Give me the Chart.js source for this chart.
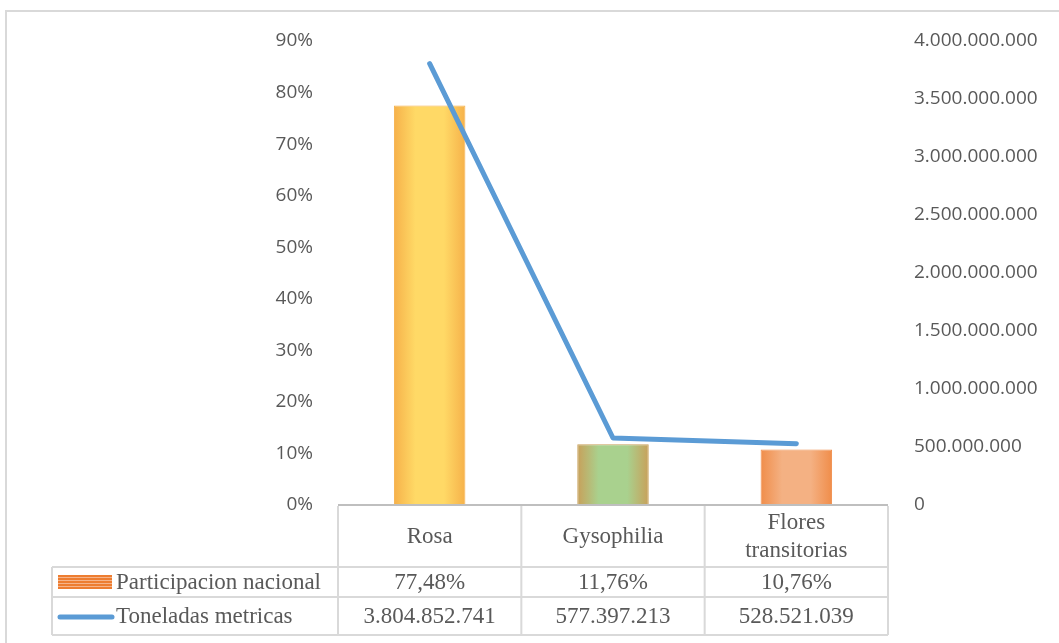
<!DOCTYPE html>
<html>
<head>
<meta charset="utf-8">
<script src="https://cdn.jsdelivr.net/npm/chart.js@4/dist/chart.umd.min.js"></script>
<style>
  body { margin: 0; background: #fff; }
</style>
</head>
<body>
<canvas id="myChart" width="1059" height="643"></canvas>
<script>
function $(id) {
  return document.getElementById(id);
}

// data
const categories = ["Rosa", "Gysophilia", ["Flores", "transitorias"]];
const participacion = [77.48, 11.76, 10.76];
const toneladas = [3804852741, 577397213, 528521039];
const seriesNames = ["Participacion nacional", "Toneladas metricas"];

// bar colours: edge, centre
const barEdges = ["#F6B14A", "#C8A05A", "#F08D4A"];
const barCentres = ["#FFD966", "#A9D18E", "#F4B183"];

const TEXT = "#595959";
const LINE = "#d9d9d9";
const BLUE = "#5B9BD5";
const BAR_PCT = 0.39;

function dots(n) {
  return Math.round(n).toString().replace(/\B(?=(\d{3})+(?!\d))/g, ".");
}

function pct(v) {
  return v.toFixed(2).replace(".", ",") + "%";
}

function barFill(context) {
  const chart = context.chart;
  const i = context.dataIndex;
  const xs = chart.scales.x;
  const area = chart.chartArea;
  if (!xs || !area || i === undefined) return barCentres[i] || barCentres[0];
  const cx = xs.getPixelForValue(i);
  const half = (area.right - area.left) / categories.length * BAR_PCT / 2;
  if (isNaN(cx) || !half) return barCentres[i];
  const g = chart.ctx.createLinearGradient(cx - half, 0, cx + half, 0);
  g.addColorStop(0, barEdges[i]);
  g.addColorStop(0.3, barCentres[i]);
  g.addColorStop(0.7, barCentres[i]);
  g.addColorStop(1, barEdges[i]);
  return g;
}

// draws the frame and the data table under the plot
const tablePlugin = {
  id: "dataTable",
  afterDraw(chart) {
    const c = chart.ctx;
    const area = chart.chartArea;
    const xs = chart.scales.x;
    const colW = (area.right - area.left) / categories.length;
    const rows = [area.bottom, 567, 597, 635];
    const labelLeft = 52;

    c.save();
    // outer frame
    c.strokeStyle = LINE;
    c.lineWidth = 2;
    c.beginPath();
    c.moveTo(6, 643);
    c.lineTo(6, 11);
    c.lineTo(1059, 11);
    c.stroke();

    // axis line
    c.strokeStyle = "#bfbfbf";
    c.beginPath();
    c.moveTo(area.left, area.bottom);
    c.lineTo(area.right, area.bottom);
    c.stroke();

    // table lines
    c.strokeStyle = LINE;
    c.beginPath();
    for (let r = 1; r < rows.length; r++) {
      c.moveTo(labelLeft, rows[r]);
      c.lineTo(area.right, rows[r]);
    }
    c.moveTo(labelLeft, rows[1]);
    c.lineTo(labelLeft, rows[3]);
    for (let k = 0; k <= categories.length; k++) {
      const x = area.left + k * colW;
      c.moveTo(x, rows[0] + 1);
      c.lineTo(x, rows[3]);
    }
    c.stroke();

    // texts
    c.fillStyle = TEXT;
    c.font = "23px 'Liberation Serif', 'Times New Roman', serif";
    c.textAlign = "center";
    c.textBaseline = "middle";
    categories.forEach((cat, i) => {
      const x = xs.getPixelForValue(i);
      const mid = (rows[0] + rows[1]) / 2 + 1;
      if (Array.isArray(cat)) {
        c.fillText(cat[0], x, mid - 14);
        c.fillText(cat[1], x, mid + 14);
      } else {
        c.fillText(cat, x, mid);
      }
      c.fillText(pct(participacion[i]), x, (rows[1] + rows[2]) / 2 + 1);
      c.fillText(dots(toneladas[i]), x, (rows[2] + rows[3]) / 2 + 1);
    });

    // legend keys
    const y1 = (rows[1] + rows[2]) / 2;
    c.fillStyle = "#ED7D31";
    c.fillRect(58, y1 - 7, 54, 14);
    c.strokeStyle = "#F6B48A";
    c.lineWidth = 1;
    c.beginPath();
    for (let s = y1 - 5; s < y1 + 7; s += 3) {
      c.moveTo(58, s + 0.5);
      c.lineTo(112, s + 0.5);
    }
    c.stroke();

    const y2 = (rows[2] + rows[3]) / 2 + 1;
    c.strokeStyle = BLUE;
    c.lineWidth = 5;
    c.lineCap = "round";
    c.beginPath();
    c.moveTo(60, y2);
    c.lineTo(112, y2);
    c.stroke();

    c.fillStyle = TEXT;
    c.textAlign = "left";
    c.fillText(seriesNames[0], 116, y1 + 1);
    c.fillText(seriesNames[1], 116, y2);
    c.restore();
  }
};

const tickFont = { family: "'Open Sans', sans-serif", size: 19 };

window.onload = function() {
  const ctx = $("myChart").getContext("2d");
  new Chart(ctx, {
    type: "bar",
    data: {
      labels: categories,
      datasets: [{
        type: "line",
        label: seriesNames[1],
        data: toneladas,
        yAxisID: "y1",
        borderColor: BLUE,
        borderWidth: 5,
        borderCapStyle: "round",
        borderJoinStyle: "round",
        pointRadius: 0,
        tension: 0,
        order: 0
      }, {
        label: seriesNames[0],
        data: participacion,
        yAxisID: "y",
        backgroundColor: barFill,
        borderColor: barEdges,
        borderWidth: 1,
        categoryPercentage: 1,
        barPercentage: BAR_PCT,
        order: 1
      }]
    },
    plugins: [tablePlugin],
    options: {
      responsive: false,
      animation: false,
      layout: {
        padding: { left: 0, right: 0, top: 41, bottom: 138 }
      },
      plugins: {
        legend: { display: false },
        tooltip: { enabled: false },
        title: { display: false }
      },
      scales: {
        x: {
          display: false
        },
        y: {
          position: "left",
          min: 0,
          max: 90,
          afterFit(scale) { scale.width = 338; },
          grid: { display: false, drawTicks: false },
          border: { display: false },
          ticks: {
            stepSize: 10,
            padding: 25,
            color: TEXT,
            font: tickFont,
            callback: v => v + "%"
          }
        },
        y1: {
          position: "right",
          min: 0,
          max: 4000000000,
          afterFit(scale) { scale.width = 171; },
          grid: { display: false, drawTicks: false },
          border: { display: false },
          ticks: {
            stepSize: 500000000,
            padding: 26,
            color: TEXT,
            font: tickFont,
            callback: v => dots(v)
          }
        }
      }
    }
  });
};
</script>
</body>
</html>
